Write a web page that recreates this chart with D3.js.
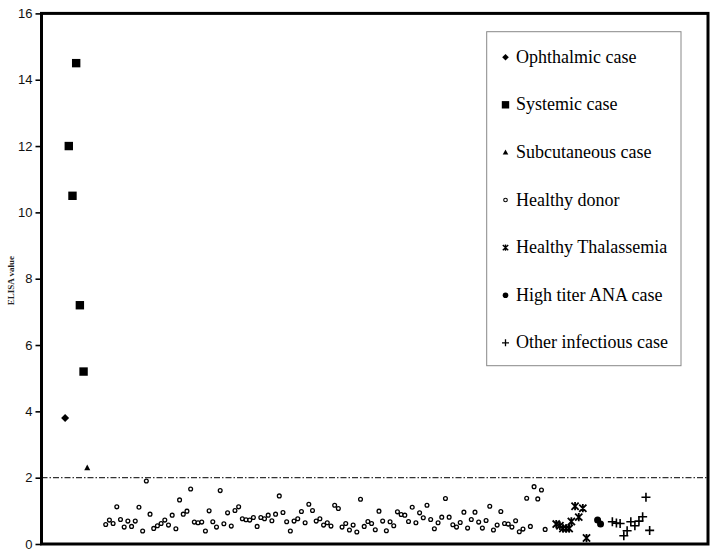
<!DOCTYPE html>
<html><head><meta charset="utf-8">
<script src="https://cdn.jsdelivr.net/npm/d3@7"></script>
<style>body{margin:0;background:#fff}svg{display:block}</style>
</head><body>
<svg id="c" width="719" height="556"></svg>
<script>
// ---- data (x = sample position index, y = ELISA value) ----
const yTicks = [0, 2, 4, 6, 8, 10, 12, 14, 16];
const cutoff = 2;
const ophthalmicX = [0];
const ophthalmicY = [3.8];
const systemicX = [1, 2, 3, 4, 5];
const systemicY = [12, 10.5, 14.5, 7.2, 5.2];
const subcutX = [6];
const subcutY = [2.3];
const donorStart = 11;
const donorY = [
 0.59,0.72,0.62,1.12,0.74,0.51,0.69,0.53,0.69,1.11,0.39,1.90,0.90,0.47,0.55,0.62,0.72,0.57,0.87,0.46,1.33,0.90,
 0.99,1.66,0.66,0.64,0.66,0.39,1.00,0.67,0.51,1.61,0.61,0.94,0.54,1.01,1.12,0.76,0.73,0.72,0.80,0.53,0.80,0.76,0.87,
 0.70,0.90,1.45,0.95,0.67,0.39,0.69,0.76,0.98,0.64,1.20,1.01,0.69,0.76,0.57,0.64,0.54,1.17,1.07,0.51,0.62,0.42,0.57,
 0.36,1.35,0.53,0.68,0.62,0.43,0.99,0.69,0.40,0.67,0.55,0.97,0.89,0.87,0.68,1.11,0.64,0.94,0.79,1.17,0.74,0.46,0.64,
 0.81,1.37,0.81,0.58,0.51,0.65,0.96,0.48,0.74,0.96,0.66,0.48,0.71,1.14,0.42,0.57,0.98,0.62,0.60,0.51,0.70,0.37,0.45,
 1.38,0.53,1.73,1.36,1.63,0.44];
const thalX = [133, 134, 134.8, 135.7, 136.5, 137.1, 138.1, 139.1, 140.2, 141.2];
const thalY = [0.60, 0.55, 0.47, 0.47, 0.47, 0.68, 1.14, 0.81, 1.08, 0.18];
const anaX = [144.2, 145.0];
const anaY = [0.72, 0.60];
const infX = [148.2, 149.3, 150.3, 151.3, 152.2, 153.2, 154.3, 155.4, 156.4, 157.3, 158.3];
const infY = [0.67, 0.63, 0.62, 0.25, 0.40, 0.67, 0.55, 0.69, 0.82, 1.41, 0.41];
const legendLabels = ["Ophthalmic case","Systemic case","Subcutaneous case","Healthy donor","Healthy Thalassemia","High titer ANA case","Other infectious case"];
const legendKinds = ["diamond","square","triangle","ocircle","star","dot","plus"];

// ---- layout ----
const svg = d3.select("#c");
const L = 41.5, R = 708, T = 13.4, B = 544;
const x = d3.scaleLinear().domain([-6.39, 174.1]).range([L, R]);
const y = d3.scaleLinear().domain([0, 16]).range([B, T]);

// y axis
const yAxis = d3.axisLeft(y).tickValues(yTicks).tickSize(6).tickPadding(3);
const gy = svg.append("g").attr("transform", `translate(${L},0)`).call(yAxis);
gy.select(".domain").remove();
gy.selectAll(".tick line").attr("stroke", "#000").attr("stroke-width", 1.6);
gy.selectAll(".tick text").attr("font-family", "Liberation Sans, Arial, sans-serif")
  .attr("font-size", 13).attr("fill", "#111");

// y label
svg.append("text").attr("transform", `translate(14,${(T+B)/2+2}) rotate(-90)`)
  .attr("text-anchor", "middle").attr("font-family", "Liberation Serif, Times New Roman, serif")
  .attr("font-size", 9).attr("font-weight", "bold").attr("fill", "#222").text("ELISA value");

// cutoff line
svg.append("line").attr("x1", L).attr("x2", R).attr("y1", y(cutoff)).attr("y2", y(cutoff))
  .attr("stroke", "#333").attr("stroke-width", 1.2).attr("stroke-dasharray", "6,2,1.5,2");

// frame
svg.append("rect").attr("x", L).attr("y", T).attr("width", R - L).attr("height", B - T)
  .attr("fill", "none").attr("stroke", "#000").attr("stroke-width", 3);

// marker drawing
function starPath(cx, cy, s) {
  return `M${cx-s},${cy-s}L${cx+s},${cy+s}M${cx+s},${cy-s}L${cx-s},${cy+s}M${cx},${cy-s*1.15}L${cx},${cy+s*1.15}`;
}
function mark(g, kind, cx, cy) {
  if (kind === "diamond") {
    g.append("path").attr("d", `M${cx},${cy-4}L${cx+4},${cy}L${cx},${cy+4}L${cx-4},${cy}Z`).attr("fill", "#000");
  } else if (kind === "square") {
    g.append("rect").attr("x", cx-4.2).attr("y", cy-4.2).attr("width", 8.4).attr("height", 8.4).attr("fill", "#000");
  } else if (kind === "triangle") {
    g.append("path").attr("d", `M${cx},${cy-3.2}L${cx+3},${cy+2.4}L${cx-3},${cy+2.4}Z`).attr("fill", "#000");
  } else if (kind === "ocircle") {
    g.append("circle").attr("cx", cx).attr("cy", cy).attr("r", 1.9).attr("fill", "#fff").attr("stroke", "#000").attr("stroke-width", 1.3);
  } else if (kind === "star") {
    g.append("path").attr("d", starPath(cx, cy, 3.6)).attr("stroke", "#000").attr("stroke-width", 1.8).attr("fill", "none");
  } else if (kind === "dot") {
    g.append("circle").attr("cx", cx).attr("cy", cy).attr("r", 3.5).attr("fill", "#000");
  } else if (kind === "plus") {
    const s = 4.5;
    g.append("path").attr("d", `M${cx-s},${cy}L${cx+s},${cy}M${cx},${cy-s}L${cx},${cy+s}`)
      .attr("stroke", "#000").attr("stroke-width", 1.6).attr("fill", "none");
  }
}

const pts = svg.append("g");
donorY.forEach((v, k) => mark(pts, "ocircle", x(donorStart + k), y(v)));
ophthalmicX.forEach((xi, k) => mark(pts, "diamond", x(xi), y(ophthalmicY[k])));
systemicX.forEach((xi, k) => mark(pts, "square", x(xi), y(systemicY[k])));
subcutX.forEach((xi, k) => mark(pts, "triangle", x(xi), y(subcutY[k])));
thalX.forEach((xi, k) => mark(pts, "star", x(xi), y(thalY[k])));
anaX.forEach((xi, k) => mark(pts, "dot", x(xi), y(anaY[k])));
infX.forEach((xi, k) => mark(pts, "plus", x(xi), y(infY[k])));

// legend
const lg = svg.append("g");
lg.append("rect").attr("x", 486.7).attr("y", 31.7).attr("width", 194.3).attr("height", 334)
  .attr("fill", "#fff").attr("stroke", "#888").attr("stroke-width", 1);
legendLabels.forEach((lab, i) => {
  const by = 62.7 + i * 47.6;
  const g = lg.append("g");
  const cx = 505.5, cy = by - 5.5;
  const k = legendKinds[i];
  if (k === "diamond") g.append("path").attr("d", `M${cx},${cy-3.3}L${cx+3.3},${cy}L${cx},${cy+3.3}L${cx-3.3},${cy}Z`).attr("fill","#000");
  else if (k === "square") g.append("rect").attr("x", cx-3.7).attr("y", cy-3.7).attr("width", 7.4).attr("height", 7.4).attr("fill","#000");
  else if (k === "triangle") g.append("path").attr("d", `M${cx},${cy-3}L${cx+2.8},${cy+2.2}L${cx-2.8},${cy+2.2}Z`).attr("fill","#000");
  else if (k === "ocircle") g.append("circle").attr("cx", cx).attr("cy", cy).attr("r", 1.8).attr("fill","#fff").attr("stroke","#000").attr("stroke-width",1.1);
  else if (k === "star") g.append("path").attr("d", starPath(cx, cy, 2.7)).attr("stroke","#000").attr("stroke-width",1.4).attr("fill","none");
  else if (k === "dot") g.append("circle").attr("cx", cx).attr("cy", cy).attr("r", 2.8).attr("fill","#000");
  else if (k === "plus") g.append("path").attr("d", `M${cx-3.5},${cy}L${cx+3.5},${cy}M${cx},${cy-3.5}L${cx},${cy+3.5}`).attr("stroke","#000").attr("stroke-width",1.3).attr("fill","none");
  g.append("text").attr("x", 516).attr("y", by).attr("font-family", "Liberation Serif, Times New Roman, serif")
    .attr("font-size", 18).attr("fill", "#000").text(lab);
});
</script>
</body></html>
